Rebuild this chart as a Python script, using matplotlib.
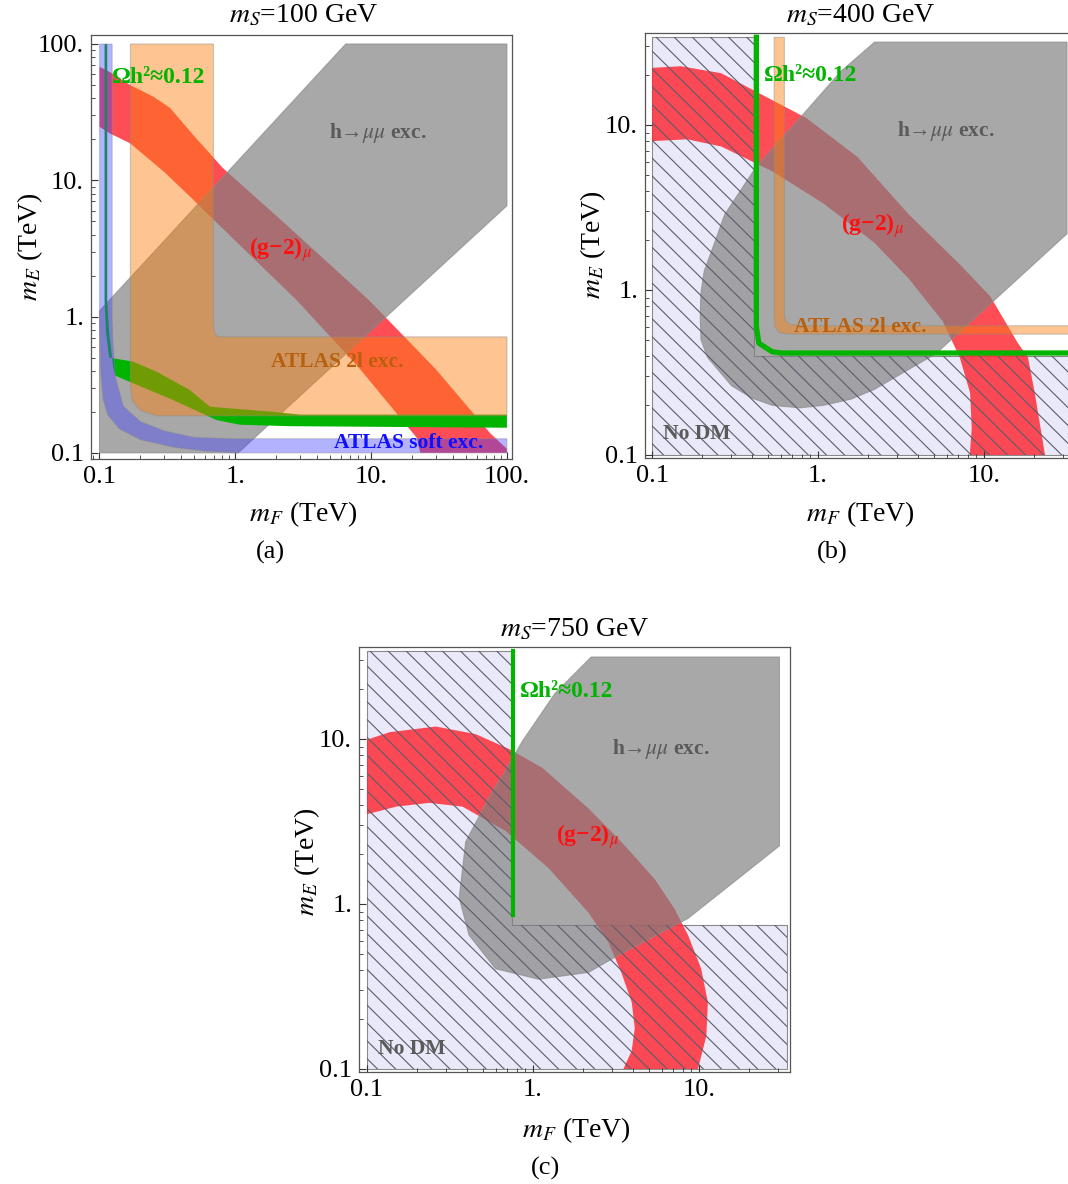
import matplotlib
matplotlib.use('Agg')
import matplotlib.pyplot as plt
import matplotlib.ticker as mt
from matplotlib.collections import LineCollection

plt.rcParams['font.family'] = ['Liberation Serif', 'DejaVu Serif']
plt.rcParams['mathtext.fontset'] = 'stix'

# ---------------- data (TeV) ----------------
ticks_a = [0.1, 1, 10, 100]
ticklabels_a = ['0.1', '1.', '10.', '100.']
ticks_bc = [0.1, 1, 10]
ticklabels_bc = ['0.1', '1.', '10.']

# panel (a): m_S = 100 GeV
a_hmm_x = [0.1, 0.1, 6.5, 100, 100, 1.05]
a_hmm_y = [0.1, 1.1, 100, 100, 6.5, 0.1]
a_2l_x = [0.169, 0.169, 0.175, 0.2, 0.264, 100, 100, 0.79, 0.73, 0.70, 0.69, 0.69]
a_2l_y = [100, 0.31, 0.24, 0.205, 0.187, 0.187, 0.71, 0.71, 0.72, 0.78, 0.93, 100]
a_soft_x = [0.1, 0.1, 0.102, 0.106, 0.115, 0.14, 0.2, 0.35, 0.6, 1.05, 100,
            100, 1.0, 0.5, 0.3, 0.2, 0.15, 0.132, 0.126, 0.124, 0.124]
a_soft_y = [100, 1.0, 0.4, 0.25, 0.19, 0.15, 0.125, 0.11, 0.103, 0.1, 0.1,
            0.127, 0.127, 0.13, 0.145, 0.17, 0.22, 0.35, 0.6, 1.0, 100]
a_dm_x = [0.109, 0.109, 0.112, 0.118, 0.177, 0.264, 0.463, 0.651, 1.9, 3.0, 100,
          100, 2.53, 1.08, 0.73, 0.349, 0.177, 0.13, 0.126, 0.118, 0.114, 0.114]
a_dm_y = [100, 1.3, 0.75, 0.5, 0.467, 0.394, 0.289, 0.218, 0.2, 0.191, 0.191,
          0.153, 0.157, 0.161, 0.174, 0.244, 0.324, 0.37, 0.43, 0.75, 1.3, 100]
a_g2_x = [0.1, 0.12, 0.168, 0.25, 0.33, 0.5, 0.81, 2.0, 5.0, 9.8, 30, 75, 100,
          100, 23, 21.7, 8.0, 2.83, 1.0, 0.464, 0.3, 0.168, 0.119, 0.1]
a_g2_y = [68, 62, 50, 41, 34, 21, 12.3, 5.5, 2.4, 1.3, 0.41, 0.14, 0.107,
          0.1, 0.1, 0.129, 0.43, 1.32, 3.6, 7.6, 11.5, 18.7, 22.1, 24.7]

# panel (b): m_S = 400 GeV
b_nodm_x = [0.1, 0.1, 0.41, 0.41, 40, 40]
b_nodm_y = [0.1, 34, 34, 0.40, 0.40, 0.1]
b_hmm_x = [2.19, 31.6, 31.6, 5.12, 3.52, 2.19, 1.58, 1.08, 0.776, 0.53, 0.4, 0.301, 0.216,
           0.197, 0.195, 0.197, 0.206, 0.238, 0.274, 0.42, 0.776, 1.37]
b_hmm_y = [31.8, 31.8, 2.19, 0.41, 0.33, 0.25, 0.218, 0.2, 0.193, 0.2, 0.221, 0.263, 0.39,
           0.5, 0.713, 0.96, 1.3, 1.93, 2.87, 5.5, 11.0, 21.1]
b_2l_x = [0.544, 0.544, 0.55, 0.58, 0.64, 0.71, 40, 40, 0.776, 0.68, 0.64, 0.627, 0.627]
b_2l_y = [34, 0.72, 0.6, 0.555, 0.542, 0.54, 0.54, 0.607, 0.607, 0.62, 0.65, 0.71, 34]
b_dm_x = [0.425, 0.425, 0.44, 0.53, 0.6, 40]
b_dm_y = [34, 0.6, 0.476, 0.422, 0.415, 0.415]
b_g2_x = [0.1, 0.149, 0.261, 0.42, 0.853, 1.73, 3.52, 7.14, 10.9, 15.96, 18.4, 20.2, 23.3,
          8.2, 8.43, 8.24, 7.14, 5.64, 3.52, 2.19, 1.08, 0.53, 0.261, 0.163, 0.1]
b_g2_y = [22.2, 22.7, 20.6, 16.0, 11.0, 6.39, 2.87, 1.43, 0.915, 0.478, 0.39, 0.238, 0.1,
          0.1, 0.145, 0.238, 0.39, 0.646, 1.17, 1.93, 3.34, 5.24, 7.41, 8.19, 7.98]

# panel (c): m_S = 750 GeV
c_nodm_x = [0.1, 0.1, 0.75, 0.75, 34, 34]
c_nodm_y = [0.1, 34, 34, 0.75, 0.75, 0.1]
c_hmm_x = [2.24, 30.5, 30.5, 8.59, 3.4, 2.16, 1.08, 0.595, 0.412, 0.359, 0.393, 0.543, 0.743, 0.86, 1.36]
c_hmm_y = [31.4, 31.4, 2.25, 0.818, 0.5, 0.385, 0.35, 0.405, 0.647, 1.09, 2.38, 4.43, 7.45, 9.66, 18.97]
c_dm_x = [0.755, 0.755]
c_dm_y = [34, 0.86]
c_g2_x = [0.1, 0.137, 0.26, 0.452, 0.716, 1.135, 2.16, 3.42, 5.42, 7.14, 8.59, 10.3, 11.3, 11.07, 9.85,
          3.5, 3.93, 4.1, 3.93, 3.4, 2.85, 2.16, 1.24, 0.684, 0.376, 0.237, 0.15, 0.1]
c_g2_y = [9.9, 11.0, 11.9, 10.7, 8.7, 6.7, 3.79, 2.37, 1.41, 0.93, 0.647, 0.405, 0.254, 0.159, 0.1,
          0.1, 0.129, 0.177, 0.254, 0.385, 0.584, 0.885, 1.65, 2.77, 3.89, 4.1, 3.89, 3.5]

# ---------------- styles ----------------
RED = '#FF2630'
GRAY = '#7F7F7F'
ORANGE = '#FD7E0B'
BLUE = '#4040FF'
GREEN = '#00B400'
LAV = '#E9E9F9'
EDGE = '#8A8A8A'
TXT_GRAY = '#5A5A5A'
TXT_ORANGE = '#B8600E'

W, H = 1068, 1184
fig = plt.figure(figsize=(W / 100, H / 100), dpi=100)


def add_ax(l, t, r, b):
    return fig.add_axes([l / W, 1 - b / H, (r - l) / W, (b - t) / H])


def style(ax, xlim, ylim, ticks, labels):
    ax.set_xscale('log')
    ax.set_yscale('log')
    ax.set_xlim(*xlim)
    ax.set_ylim(*ylim)
    for a in (ax.xaxis, ax.yaxis):
        a.set_major_locator(mt.FixedLocator(ticks))
        a.set_major_formatter(mt.FixedFormatter(labels))
        a.set_minor_locator(mt.LogLocator(base=10, subs=range(2, 10), numticks=20))
        a.set_minor_formatter(mt.NullFormatter())
    ax.tick_params(which='both', direction='in', top=False, right=False,
                   labelsize=19, colors='#333333', labelcolor='black')
    ax.tick_params(which='major', length=5, width=0.8, pad=5)
    ax.tick_params(which='minor', length=3, width=0.6)
    for s in ax.spines.values():
        s.set_color('#555555')
        s.set_linewidth(0.9)


def hatch(ax, patch, step=0.042):
    segs = []
    c = -1.0
    while c < 3.0:
        segs.append([(c - 1.5, 1.5), (c + 1.5, -1.5)])
        c += step
    lc = LineCollection(segs, colors='#5c5c6c', linewidths=0.8,
                        transform=ax.transAxes, zorder=3)
    ax.add_collection(lc)
    lc.set_clip_path(patch)


def label(ax, x, y, s, color, ha='center', size=15.5):
    ax.text(x, y, s, transform=ax.transAxes, color=color, fontsize=size,
            fontweight='bold', ha=ha, va='center', zorder=10)


def fig_text(px, py, s, **kw):
    fig.text(px / W, 1 - py / H, s, ha='center', va='center', **kw)


# ---------------- panel (a) ----------------
ax = add_ax(91, 35, 512, 459)
style(ax, (0.0866, 109), (0.0902, 116.4), ticks_a, ticklabels_a)
ax.fill(a_g2_x, a_g2_y, facecolor=RED, alpha=0.82, edgecolor='none', zorder=1)
ax.fill(a_hmm_x, a_hmm_y, facecolor=GRAY, alpha=0.68, edgecolor=EDGE, lw=0.8, zorder=2)
ax.fill(a_dm_x, a_dm_y, facecolor=GREEN, edgecolor='none', zorder=3)
ax.fill(a_2l_x, a_2l_y, facecolor=ORANGE, alpha=0.45, edgecolor=EDGE, lw=0.8, zorder=4)
ax.fill(a_soft_x, a_soft_y, facecolor=BLUE, alpha=0.4, edgecolor=EDGE, lw=0.8, zorder=5)
label(ax, 0.05, 0.899, 'Ωh²≈0.12', GREEN, ha='left', size=17)
label(ax, 0.682, 0.769, 'h→$\\mathit{\\mu\\mu}$ exc.', TXT_GRAY)
label(ax, 0.451, 0.493, '(g−2)$_{\\mu}$', '#FF1010', size=17)
label(ax, 0.584, 0.229, 'ATLAS 2l exc.', TXT_ORANGE)
label(ax, 0.755, 0.038, 'ATLAS soft exc.', '#1010FF')
fig_text(304, 16, '$m_S$=100 GeV', fontsize=20)
fig_text(303, 514, '$m_F$ (TeV)', fontsize=20)
fig_text(30, 247, '$m_E$ (TeV)', fontsize=20, rotation=90)
fig_text(270, 552, '(a)', fontsize=19)

# ---------------- panel (b) ----------------
ax = add_ax(645, 33, 1076, 458)
style(ax, (0.0907, 35.8), (0.0959, 36.1), ticks_bc, ticklabels_bc)
nd = ax.fill(b_nodm_x, b_nodm_y, facecolor=LAV, edgecolor=EDGE, lw=0.8, zorder=0)[0]
ax.fill(b_g2_x, b_g2_y, facecolor=RED, alpha=0.82, edgecolor='none', zorder=1)
ax.fill(b_hmm_x, b_hmm_y, facecolor=GRAY, alpha=0.68, edgecolor=EDGE, lw=0.8, zorder=2)
hatch(ax, nd)
ax.fill(b_2l_x, b_2l_y, facecolor=ORANGE, alpha=0.45, edgecolor=EDGE, lw=0.8, zorder=4)
ax.plot(b_dm_x, b_dm_y, color=GREEN, lw=3.8, solid_joinstyle='round', zorder=5)
label(ax, 0.276, 0.899, 'Ωh²≈0.12', GREEN, ha='left', size=17)
label(ax, 0.698, 0.769, 'h→$\\mathit{\\mu\\mu}$ exc.', TXT_GRAY)
label(ax, 0.527, 0.548, '(g−2)$_{\\mu}$', '#FF1010', size=17)
label(ax, 0.499, 0.308, 'ATLAS 2l exc.', TXT_ORANGE)
label(ax, 0.121, 0.056, 'No DM', TXT_GRAY)
fig_text(861, 16, '$m_S$=400 GeV', fontsize=20)
fig_text(860, 514, '$m_F$ (TeV)', fontsize=20)
fig_text(593, 245, '$m_E$ (TeV)', fontsize=20, rotation=90)
fig_text(832, 552, '(b)', fontsize=19)

# ---------------- panel (c) ----------------
ax = add_ax(359, 647, 790, 1072)
style(ax, (0.0895, 35.3), (0.0959, 36.1), ticks_bc, ticklabels_bc)
nd = ax.fill(c_nodm_x, c_nodm_y, facecolor=LAV, edgecolor=EDGE, lw=0.8, zorder=0)[0]
ax.fill(c_g2_x, c_g2_y, facecolor=RED, alpha=0.82, edgecolor='none', zorder=1)
ax.fill(c_hmm_x, c_hmm_y, facecolor=GRAY, alpha=0.68, edgecolor=EDGE, lw=0.8, zorder=2)
hatch(ax, nd)
ax.plot(c_dm_x, c_dm_y, color=GREEN, lw=3.0, zorder=5)
label(ax, 0.374, 0.896, 'Ωh²≈0.12', GREEN, ha='left', size=17)
label(ax, 0.701, 0.76, 'h→$\\mathit{\\mu\\mu}$ exc.', TXT_GRAY)
label(ax, 0.531, 0.553, '(g−2)$_{\\mu}$', '#FF1010', size=17)
label(ax, 0.123, 0.054, 'No DM', TXT_GRAY)
fig_text(575, 630, '$m_S$=750 GeV', fontsize=20)
fig_text(576, 1130, '$m_F$ (TeV)', fontsize=20)
fig_text(307, 862, '$m_E$ (TeV)', fontsize=20, rotation=90)
fig_text(545, 1168, '(c)', fontsize=19)

fig.savefig('out.png', dpi=100)
